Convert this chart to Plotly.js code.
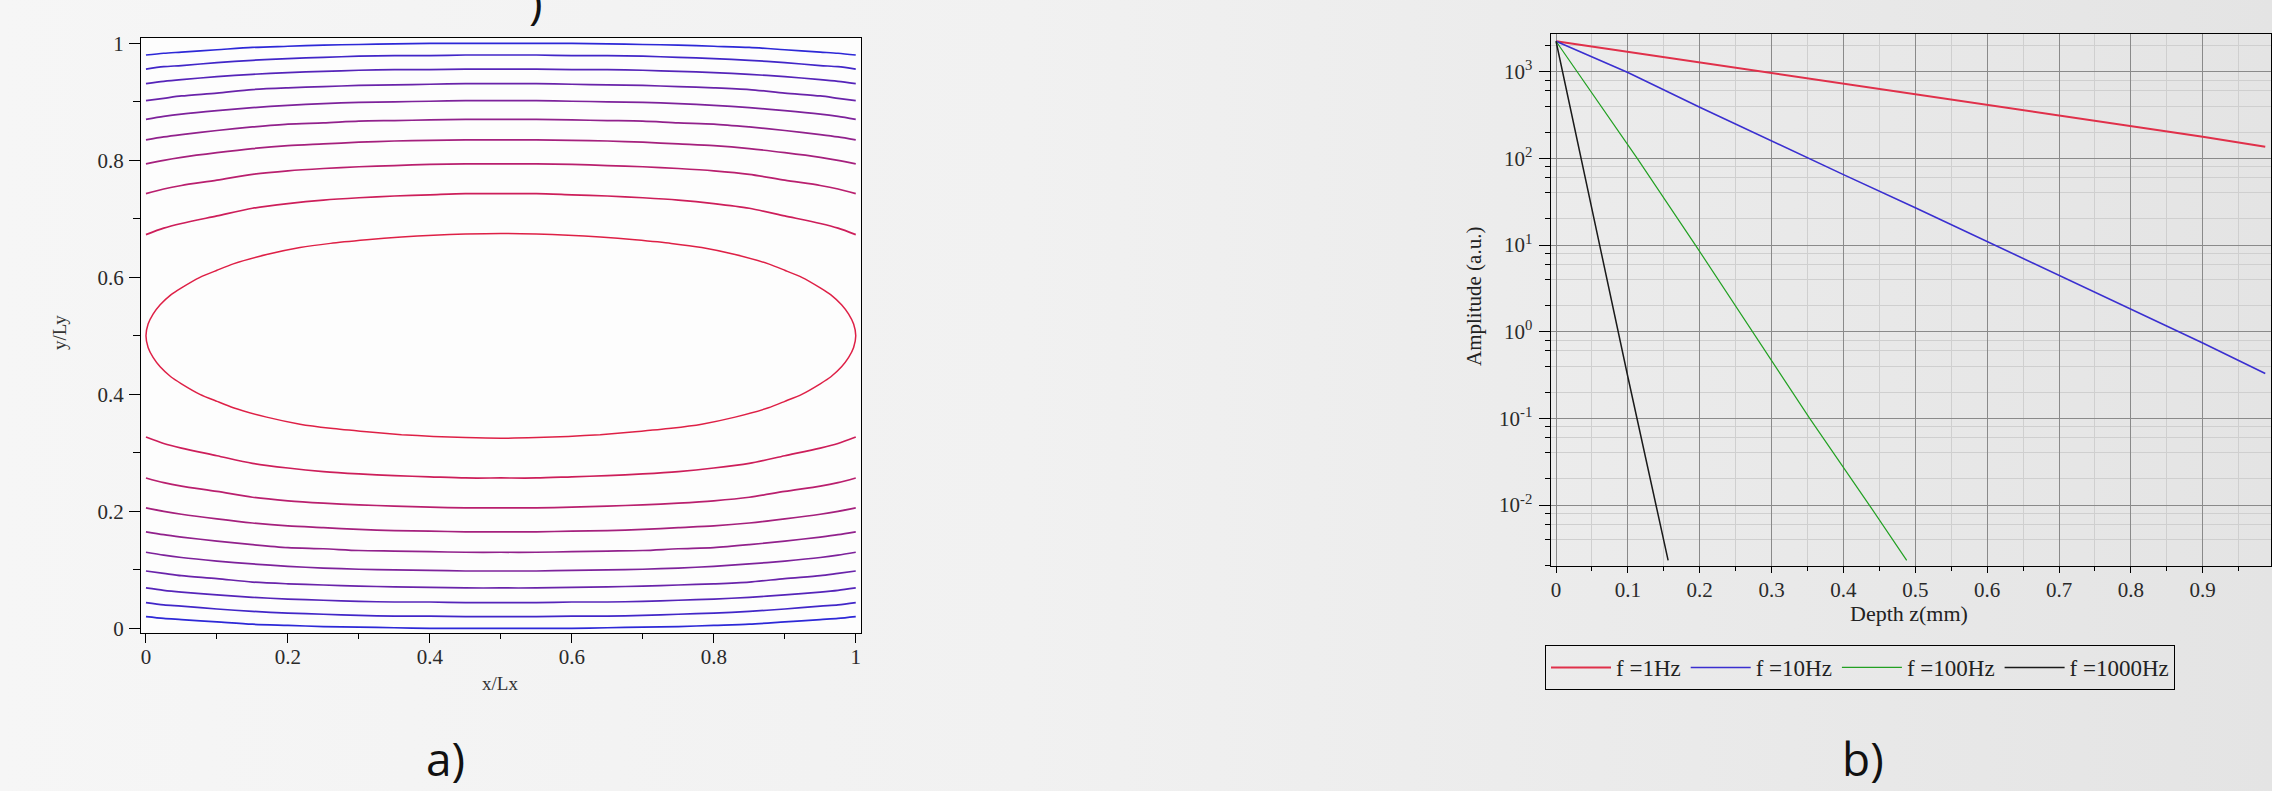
<!DOCTYPE html>
<html><head><meta charset="utf-8">
<script src="https://cdn.plot.ly/plotly-3.0.1.min.js"></script>
<style>
html,body{margin:0;padding:0;}
body{width:2272px;height:791px;background:linear-gradient(to right,#f6f6f6 0%,#f1f1f1 45%,#e4e4e4 100%);}
#chart{width:2272px;height:791px;}
</style>
</head><body><div id="chart"></div>
<script>
// ---------- panel a) contour lines (read from picture) ----------
const contourX = [0,0.025,0.05,0.1,0.15,0.2,0.25,0.3,0.35,0.4,0.45,0.5,0.55,0.6,0.65,0.7,0.75,0.8,0.85,0.9,0.95,0.975,1];
const lineT1 = [0.980,0.983,0.985,0.989,0.993,0.995,0.997,0.998,0.999,1.000,1.000,1.000,1.000,1.000,0.999,0.998,0.997,0.995,0.993,0.989,0.985,0.983,0.980];
const lineT2 = [0.956,0.960,0.962,0.967,0.971,0.974,0.976,0.978,0.979,0.979,0.980,0.980,0.980,0.979,0.979,0.978,0.976,0.974,0.971,0.967,0.962,0.960,0.956];
const lineT3 = [0.931,0.935,0.938,0.943,0.947,0.950,0.952,0.954,0.955,0.955,0.956,0.956,0.956,0.955,0.955,0.954,0.952,0.950,0.947,0.943,0.938,0.935,0.931];
const lineT4 = [0.902,0.906,0.910,0.915,0.921,0.924,0.926,0.928,0.929,0.930,0.931,0.931,0.931,0.930,0.929,0.928,0.926,0.924,0.921,0.915,0.910,0.906,0.902];
const lineT5 = [0.870,0.875,0.879,0.885,0.890,0.894,0.897,0.899,0.900,0.901,0.902,0.902,0.902,0.901,0.900,0.899,0.897,0.894,0.890,0.885,0.879,0.875,0.870];
const lineT6 = [0.835,0.840,0.844,0.851,0.857,0.862,0.864,0.867,0.868,0.869,0.870,0.870,0.870,0.869,0.868,0.867,0.864,0.862,0.857,0.851,0.844,0.840,0.835];
const lineT7 = [0.794,0.800,0.805,0.813,0.820,0.825,0.828,0.831,0.833,0.834,0.835,0.835,0.835,0.834,0.833,0.831,0.828,0.825,0.820,0.813,0.805,0.800,0.794];
const lineT8 = [0.743,0.751,0.757,0.766,0.776,0.782,0.786,0.789,0.791,0.793,0.794,0.794,0.794,0.793,0.791,0.789,0.786,0.782,0.776,0.766,0.757,0.751,0.743];
const lineT9 = [0.673,0.684,0.692,0.705,0.718,0.726,0.732,0.736,0.739,0.741,0.743,0.743,0.743,0.741,0.739,0.736,0.732,0.726,0.718,0.705,0.692,0.684,0.673];
const lineB1 = [0.020,0.017,0.015,0.011,0.007,0.005,0.003,0.002,0.001,0.000,0.000,0.000,0.000,0.000,0.001,0.002,0.003,0.005,0.007,0.011,0.015,0.017,0.020];
const lineB2 = [0.044,0.040,0.038,0.033,0.029,0.026,0.024,0.022,0.021,0.021,0.020,0.020,0.020,0.021,0.021,0.022,0.024,0.026,0.029,0.033,0.038,0.040,0.044];
const lineB3 = [0.069,0.065,0.062,0.057,0.053,0.050,0.048,0.046,0.045,0.045,0.044,0.044,0.044,0.045,0.045,0.046,0.048,0.050,0.053,0.057,0.062,0.065,0.069];
const lineB4 = [0.098,0.094,0.090,0.085,0.079,0.076,0.074,0.072,0.071,0.070,0.069,0.069,0.069,0.070,0.071,0.072,0.074,0.076,0.079,0.085,0.090,0.094,0.098];
const lineB5 = [0.130,0.125,0.121,0.115,0.110,0.106,0.103,0.101,0.100,0.099,0.098,0.098,0.098,0.099,0.100,0.101,0.103,0.106,0.110,0.115,0.121,0.125,0.130];
const lineB6 = [0.165,0.160,0.156,0.149,0.143,0.138,0.136,0.133,0.132,0.131,0.130,0.130,0.130,0.131,0.132,0.133,0.136,0.138,0.143,0.149,0.156,0.160,0.165];
const lineB7 = [0.206,0.200,0.195,0.187,0.180,0.175,0.172,0.169,0.167,0.166,0.165,0.165,0.165,0.166,0.167,0.169,0.172,0.175,0.180,0.187,0.195,0.200,0.206];
const lineB8 = [0.257,0.249,0.243,0.234,0.224,0.218,0.214,0.211,0.209,0.207,0.206,0.206,0.206,0.207,0.209,0.211,0.214,0.218,0.224,0.234,0.243,0.249,0.257];
const lineB9 = [0.327,0.316,0.308,0.295,0.282,0.274,0.268,0.264,0.261,0.259,0.257,0.257,0.257,0.259,0.261,0.264,0.268,0.274,0.282,0.295,0.308,0.316,0.327];

const ellipseX = [0,0.003,0.01,0.02,0.035,0.05,0.076,0.1,0.123,0.17,0.217,0.26,0.311,0.36,0.405,0.45,0.5,
  0.55,0.595,0.64,0.689,0.74,0.783,0.83,0.877,0.9,0.924,0.95,0.965,0.98,0.99,0.997,1,
  0.997,0.99,0.98,0.965,0.95,0.924,0.9,0.877,0.83,0.783,0.74,0.689,0.64,0.595,0.55,0.5,
  0.45,0.405,0.36,0.311,0.26,0.217,0.17,0.123,0.1,0.076,0.05,0.035,0.02,0.01,0.003,0];
const ellipseY = [0.5,0.52,0.537,0.553,0.57,0.582,0.600,0.612,0.623,0.639,0.651,0.658,0.664,0.669,0.672,0.674,0.675,
  0.674,0.672,0.669,0.664,0.658,0.651,0.639,0.623,0.612,0.600,0.582,0.57,0.553,0.537,0.52,0.5,
  0.48,0.463,0.447,0.43,0.418,0.400,0.388,0.377,0.361,0.349,0.342,0.336,0.331,0.328,0.326,0.325,
  0.326,0.328,0.331,0.336,0.342,0.349,0.361,0.377,0.388,0.400,0.418,0.43,0.447,0.463,0.48,0.5];

const contourColors = ['rgb(45,40,215)','rgb(65,38,200)','rgb(85,36,185)','rgb(105,35,170)','rgb(125,34,155)',
  'rgb(145,33,140)','rgb(165,32,125)','rgb(185,31,110)','rgb(205,30,90)','rgb(222,32,70)'];

// ---------- panel b) amplitude vs depth ----------
const depthA = [0,0.1,0.2,0.3,0.4,0.5,0.6,0.7,0.8,0.9,0.987];
const amp1Hz  = [2250,1700,1270,970,730,550,415,315,237,178,136];
const amp10Hz = [2250,980,390,158,65,27,11,4.5,1.8,0.74,0.33];
const depth100 = [0,0.113,0.194,0.274,0.353,0.436,0.488];
const amp100Hz = [2250,100,10,1,0.1,0.01,0.0023];
const depth1000 = [0,0.05,0.1,0.156];
const amp1000Hz = [2250,25,0.3,0.0023];
const seriesNames = ['f =1Hz','f =10Hz','f =100Hz','f =1000Hz'];
const seriesColors = ['#e0304a','#3a2fd0','#22a022','#1a1a1a'];

const yLogTickVals = [0.01,0.1,1,10,100,1000];
const yLogTickText = ['10<sup>-2</sup>','10<sup>-1</sup>','10<sup>0</sup>','10<sup>1</sup>','10<sup>2</sup>','10<sup>3</sup>'];
const yLogMinorDigits = [2,4,6,8];

// ---------- build ----------
const W = 2272, H = 791;
const topLines = [lineT1,lineT2,lineT3,lineT4,lineT5,lineT6,lineT7,lineT8,lineT9];
const botLines = [lineB1,lineB2,lineB3,lineB4,lineB5,lineB6,lineB7,lineB8,lineB9];
const traces = [];
topLines.forEach((ys,i)=>traces.push({x:contourX,y:ys,type:'scatter',mode:'lines',xaxis:'x',yaxis:'y',
  line:{color:contourColors[i],width:1.7,shape:'spline',smoothing:0.8},showlegend:false,hoverinfo:'skip'}));
botLines.forEach((ys,i)=>traces.push({x:contourX,y:ys,type:'scatter',mode:'lines',xaxis:'x',yaxis:'y',
  line:{color:contourColors[i],width:1.7,shape:'spline',smoothing:0.8},showlegend:false,hoverinfo:'skip'}));
traces.push({x:ellipseX,y:ellipseY,type:'scatter',mode:'lines',xaxis:'x',yaxis:'y',
  line:{color:contourColors[9],width:1.5,shape:'spline',smoothing:0.6},showlegend:false,hoverinfo:'skip'});

const bX = [depthA,depthA,depth100,depth1000];
const bY = [amp1Hz,amp10Hz,amp100Hz,amp1000Hz];
const bW = [2,1.6,1.2,1.5];
for(let i=0;i<4;i++){
  traces.push({x:bX[i],y:bY[i],type:'scatter',mode:'lines',xaxis:'x2',yaxis:'y2',name:seriesNames[i],
    line:{color:seriesColors[i],width:bW[i]},hoverinfo:'skip'});
}

const minorLog = [];
for(let e=-3;e<=3;e++){ yLogMinorDigits.forEach(d=>minorLog.push(d*Math.pow(10,e))); }

const serif = 'Liberation Serif, Times New Roman, serif';
const tickFont = {family:serif,size:21,color:'#2a2a2a'};

const px = v=>v/W, py = v=>1-v/H;
const ann = (text,x,y,font,extra)=>Object.assign({text:text,xref:'paper',yref:'paper',x:px(x),y:py(y),
  xanchor:'center',yanchor:'middle',showarrow:false,font:font},extra||{});

const layout = {
  width:W,height:H,margin:{l:0,r:0,t:0,b:0},
  paper_bgcolor:'rgba(0,0,0,0)',plot_bgcolor:'rgba(0,0,0,0)',
  showlegend:true,
  xaxis:{domain:[px(141),px(861)],range:[-0.007,1.0074],anchor:'y',
    tick0:0,dtick:0.2,ticks:'outside',ticklen:9,tickwidth:1,tickcolor:'#000',
    minor:{dtick:0.1,ticks:'outside',ticklen:5,tickcolor:'#000',tickwidth:1},
    showline:true,linecolor:'#000',linewidth:1,mirror:true,showgrid:false,zeroline:false,
    tickfont:tickFont,ticklabelstandoff:-4},
  yaxis:{domain:[py(632.7),py(37.7)],range:[-0.0075,1.0096],anchor:'x',
    tick0:0,dtick:0.2,ticks:'outside',ticklen:11,tickwidth:1,tickcolor:'#000',
    minor:{dtick:0.1,ticks:'outside',ticklen:7,tickcolor:'#000',tickwidth:1},
    showline:true,linecolor:'#000',linewidth:1,mirror:true,showgrid:false,zeroline:false,
    tickfont:tickFont,ticklabelstandoff:1},
  xaxis2:{domain:[px(1551),px(2271)],range:[-0.007,0.995],anchor:'y2',
    tick0:0,dtick:0.1,ticks:'outside',ticklen:6,tickwidth:1,tickcolor:'#000',
    minor:{dtick:0.05,ticks:'outside',ticklen:4,tickcolor:'#000',showgrid:true,gridcolor:'#cfcfcf',gridwidth:1},
    showgrid:true,gridcolor:'#8a8a8a',gridwidth:1,
    showline:true,linecolor:'#000',linewidth:1.5,mirror:true,zeroline:false,
    tickfont:tickFont,ticklabelstandoff:-1},
  yaxis2:{domain:[py(565.7),py(34.3)],type:'log',range:[-2.700,3.432],anchor:'x2',
    tickmode:'array',tickvals:yLogTickVals,ticktext:yLogTickText,
    ticks:'outside',ticklen:11,tickwidth:1,tickcolor:'#000',
    minor:{tickmode:'array',tickvals:minorLog,ticks:'outside',ticklen:5,tickcolor:'#000',showgrid:true,gridcolor:'#cfcfcf',gridwidth:1},
    showgrid:true,gridcolor:'#8a8a8a',gridwidth:1,
    showline:true,linecolor:'#000',linewidth:1.5,mirror:true,zeroline:false,
    tickfont:tickFont,ticklabelstandoff:2},
  legend:{orientation:'h',x:px(1545),xanchor:'left',y:py(645),yanchor:'top',
    bgcolor:'rgba(0,0,0,0)',bordercolor:'#000',borderwidth:1,
    font:{family:serif,size:23,color:'#222'},itemwidth:60,traceorder:'normal',tracegroupgap:0},
  shapes:[{type:'rect',xref:'x domain',yref:'y domain',x0:0,x1:1,y0:0,y1:1,fillcolor:'#fdfdfd',line:{width:0},layer:'below'}],
  annotations:[
    ann('x/Lx',500,683,{family:serif,size:19,color:'#333'}),
    ann('y/Ly',60,333,{family:serif,size:19,color:'#333'},{textangle:-90}),
    ann('Depth z(mm)',1909,613,{family:serif,size:22,color:'#222'}),
    ann('Amplitude (a.u.)',1474,297,{family:serif,size:21,color:'#222'},{textangle:-90}),
    ann('a)',445,758,{family:'Open Sans, sans-serif',size:46,color:'#111'}),
    ann('b)',1863,758,{family:'Open Sans, sans-serif',size:46,color:'#111'}),
    ann(')',536,34,{family:'Open Sans, sans-serif',size:46,color:'#111'},{yanchor:'bottom'})
  ]
};

Plotly.newPlot('chart',traces,layout,{displayModeBar:false,staticPlot:true});
</script></body></html>
